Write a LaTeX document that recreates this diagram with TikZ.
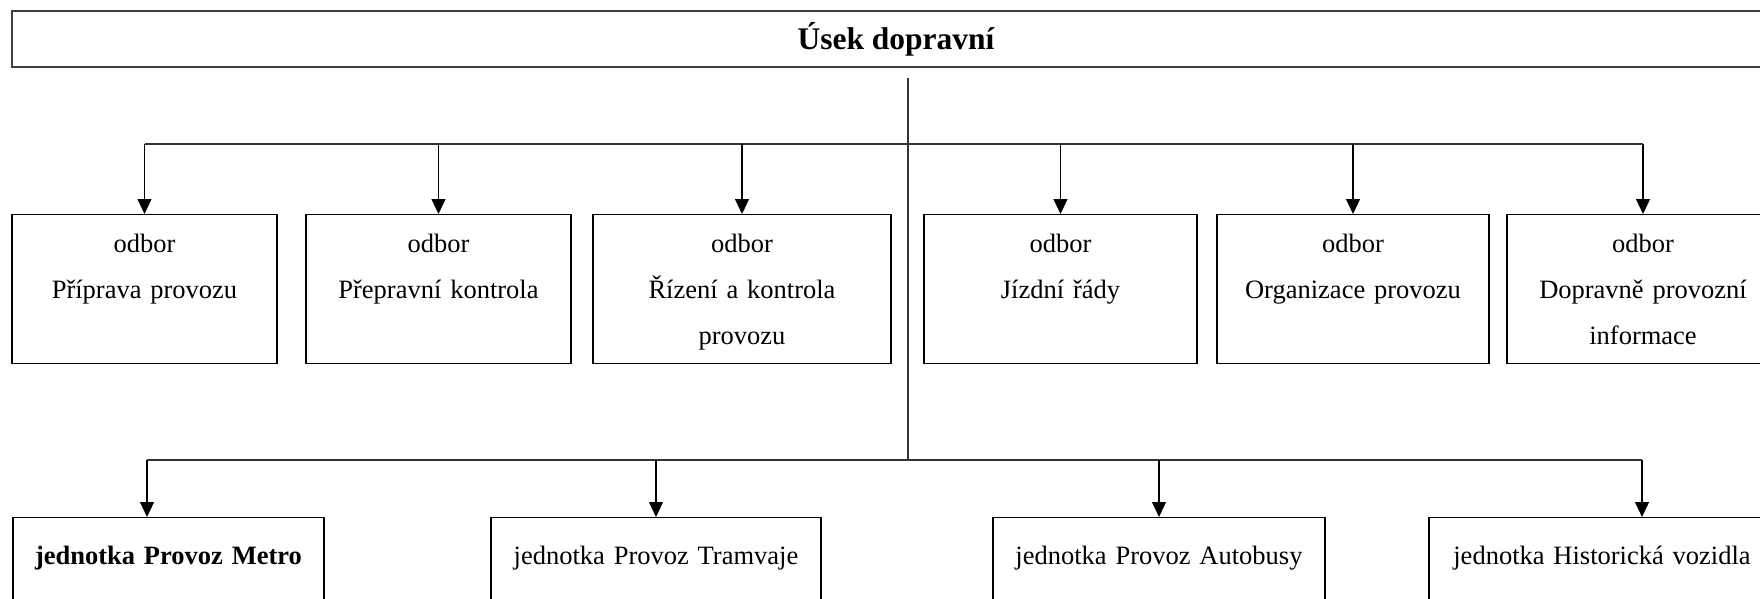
\documentclass[tikz,border=0pt]{standalone}
\usepackage{fontspec}
\setmainfont{Liberation Serif}
\usetikzlibrary{arrows.meta}

\begin{document}
\begin{tikzpicture}[x=0.5pt,y=-0.5pt,font=\fontsize{13.25}{23}\selectfont]
\tikzstyle{box}=[draw,line width=0.55pt,inner sep=0pt,align=center,anchor=north]
\tikzstyle{odbor}=[box,minimum height=74.5pt]
\tikzstyle{jednotka}=[box,inner ysep=0pt,text height=23.5pt,text depth=30pt]
\tikzstyle{vetev}=[line width=0.65pt,draw=black!80]
\tikzstyle{sipka}=[line width=0.55pt,-{Triangle[length=7.5pt,width=7pt]}]
\useasboundingbox (0,0) rectangle (1760,599);
\clip (0,0) rectangle (1760,599);

% usek
\node [box,draw=black!75,line width=0.85pt,minimum width=884pt,minimum height=28pt,
  font=\fontsize{15.75}{18}\selectfont\bfseries] (usek) at (896,10) {Úsek dopravní};

% odbory
\node [odbor,text width=132.5pt] (U1) at (144.5,214) {\strut odbor\\Příprava provozu\\\strut};
\node [odbor,text width=132.5pt] (U2) at (438.5,214) {\strut odbor\\Přepravní kontrola\\\strut};
\node [odbor,text width=149pt] (U3) at (742,214) {\strut odbor\\Řízení a kontrola\\provozu\strut};
\node [odbor,text width=136.5pt] (U4) at (1060.5,214) {\strut odbor\\Jízdní řády\\\strut};
\node [odbor,text width=136pt] (U5) at (1353,214) {\strut odbor\\Organizace provozu\\\strut};
\node [odbor,text width=136pt] (U6) at (1643,214) {\strut odbor\\Dopravně provozní\\informace\strut};

% jednotky
\node [jednotka,text width=155.5pt] (L1) at (168.5,517) {\bfseries jednotka Provoz Metro};
\node [jednotka,text width=165pt] (L2) at (656,517) {jednotka Provoz Tramvaje};
\node [jednotka,text width=166pt] (L3) at (1159,517) {jednotka Provoz Autobusy};
\node [jednotka,text width=173pt] (L4) at (1602,517) {jednotka Historická vozidla};

% vedeni
\coordinate (kmen) at (908,78);
\coordinate (hore) at (908,144);
\coordinate (dole) at (908,460);
\coordinate (m1) at ([xshift=-10.75pt]L1.north);
\coordinate (m4) at ([xshift=20pt]L4.north);
\draw [vetev] (kmen) -- (dole);
\draw [vetev] (U1.north |- hore) -- (U6.north |- hore);
\draw [vetev] (m1 |- dole) -- (m4 |- dole);
\foreach \n in {U1,U2,U3,U4,U5,U6}
  \draw [sipka] (\n.north |- hore) -- (\n.north);
\foreach \n in {m1,L2.north,L3.north,m4}
  \draw [sipka] (\n |- dole) -- (\n);
\end{tikzpicture}
\end{document}
